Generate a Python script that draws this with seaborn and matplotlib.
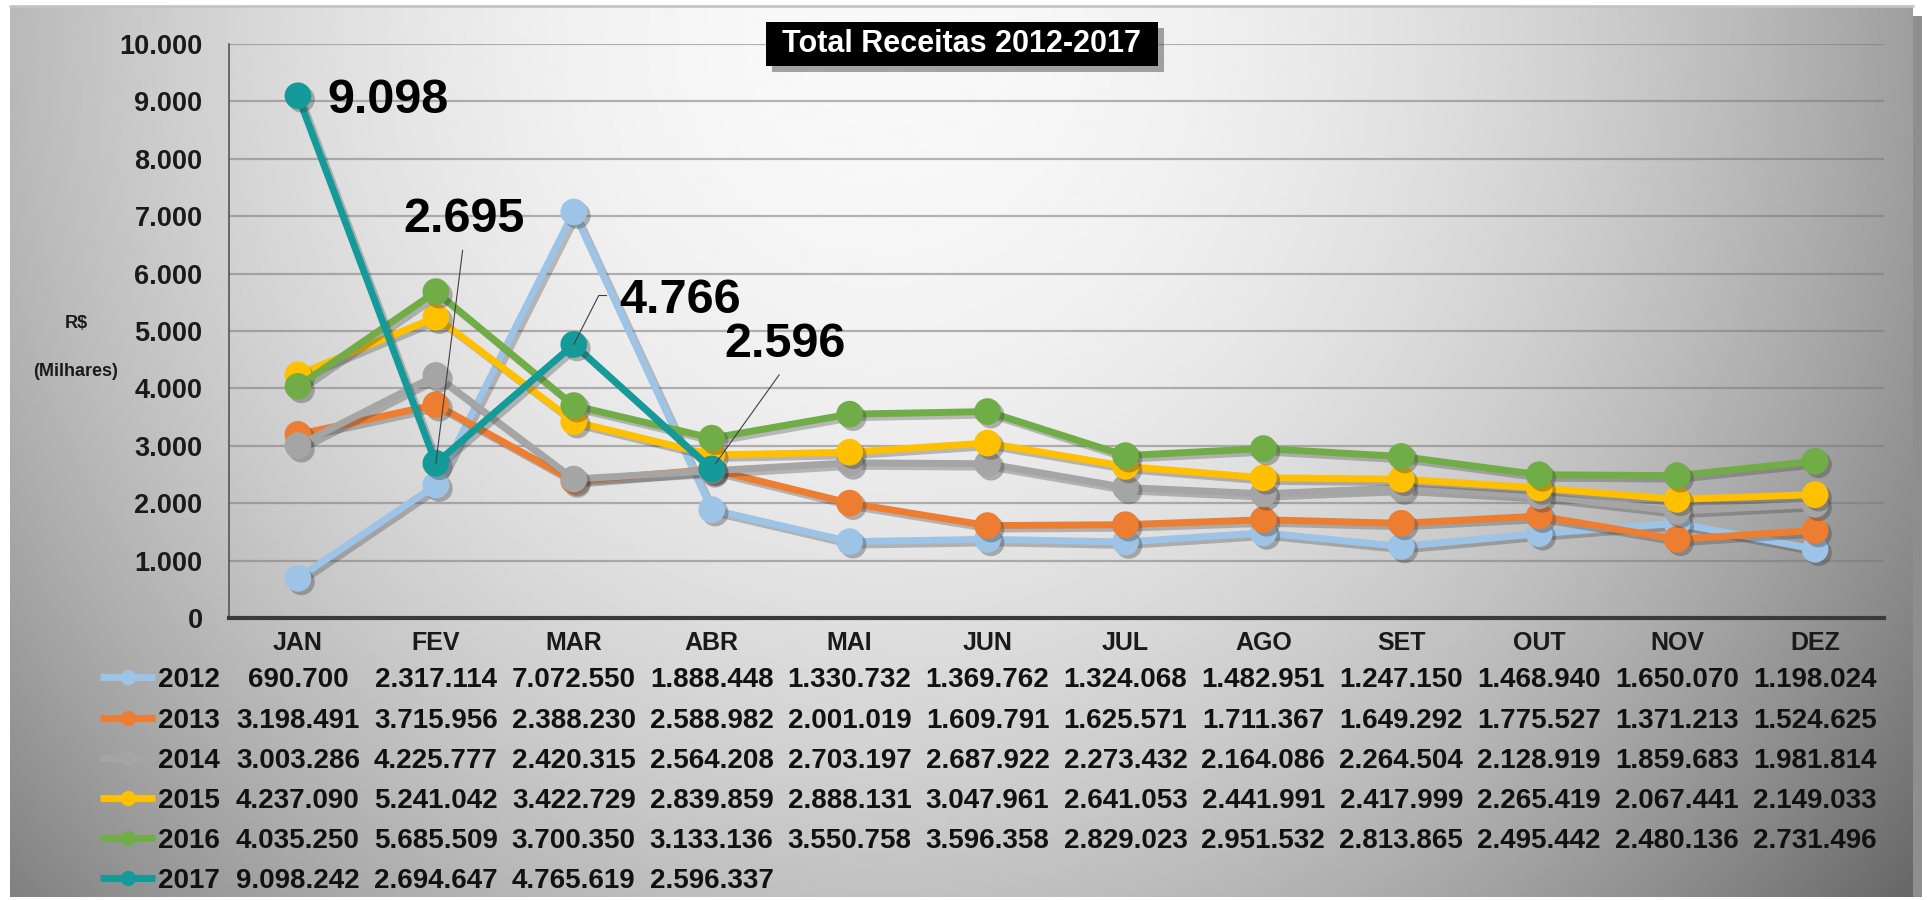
import numpy as np
import pandas as pd
import matplotlib
matplotlib.use("Agg")
import matplotlib.pyplot as plt
import matplotlib.patheffects as pe
import matplotlib.transforms as mtransforms
from matplotlib.lines import Line2D
from matplotlib.patches import Rectangle
import seaborn as sns

# ---------------- data ----------------
months = ["JAN", "FEV", "MAR", "ABR", "MAI", "JUN", "JUL", "AGO", "SET", "OUT", "NOV", "DEZ"]
years = ["2012", "2013", "2014", "2015", "2016", "2017"]
r2012 = [690700, 2317114, 7072550, 1888448, 1330732, 1369762, 1324068, 1482951, 1247150, 1468940, 1650070, 1198024]
r2013 = [3198491, 3715956, 2388230, 2588982, 2001019, 1609791, 1625571, 1711367, 1649292, 1775527, 1371213, 1524625]
r2014 = [3003286, 4225777, 2420315, 2564208, 2703197, 2687922, 2273432, 2164086, 2264504, 2128919, 1859683, 1981814]
r2015 = [4237090, 5241042, 3422729, 2839859, 2888131, 3047961, 2641053, 2441991, 2417999, 2265419, 2067441, 2149033]
r2016 = [4035250, 5685509, 3700350, 3133136, 3550758, 3596358, 2829023, 2951532, 2813865, 2495442, 2480136, 2731496]
r2017 = [9098242, 2694647, 4765619, 2596337]
series = dict(zip(years, [r2012, r2013, r2014, r2015, r2016, r2017]))
colors = {"2012": "#9dc3e6", "2013": "#ed7d31", "2014": "#a5a5a5",
          "2015": "#ffc000", "2016": "#70ad47", "2017": "#159a9a"}
yticks = list(range(0, 10001, 1000))
title = "Total Receitas 2012-2017"

rows = []
for yr, vals in series.items():
    for i, v in enumerate(vals):
        rows.append({"ano": yr, "pos": i, "mes": months[i], "milhares": v / 1000.0, "valor": v})
df = pd.DataFrame(rows)


def fmt(v):
    return f"{v:,}".replace(",", ".")


# ---------------- style ----------------
sns.set_style("white")
plt.rcParams["font.family"] = ["Liberation Sans", "DejaVu Sans"]
plt.rcParams["font.weight"] = "bold"

W, H = 1928, 900
fig = plt.figure(figsize=(W / 100, H / 100), dpi=100)
fig.patch.set_facecolor("white")

# background panel with gradient
bg = fig.add_axes([0, 0, 1, 1], zorder=-10)
bg.set_xlim(0, W)
bg.set_ylim(H, 0)
bg.axis("off")
yy, xx = np.mgrid[6:897:2, 10:1913:2]
d2 = ((xx - 880) / 950.0) ** 2 + ((yy - 40) / 1000.0) ** 2
img = np.clip(0.975 - 0.30 * d2, 0, 1)
bg.add_patch(Rectangle((1913, 16), 9, 881, color="#8e8e8e", lw=0))
bg.imshow(img, cmap="gray", vmin=0, vmax=1, extent=[10, 1913, 897, 6],
          interpolation="bilinear", aspect="auto")
bg.plot([10, 1913], [6, 6], color="#c4c4c4", lw=2)

# main axes
ax = fig.add_axes([229 / W, 1 - 618 / H, (1884 - 229) / W, (618 - 44) / H], zorder=1)
ax.patch.set_alpha(0)
ax.set_xlim(-0.5, 11.5)
ax.set_ylim(0, 10000)
ax.yaxis.grid(True, color="#7a7a7a", alpha=0.55, lw=1.6)
ax.xaxis.grid(False)
ax.set_axisbelow(True)
for s in ["top", "right"]:
    ax.spines[s].set_visible(False)
ax.spines["left"].set_color("#555555")
ax.spines["left"].set_linewidth(1.2)
ax.spines["bottom"].set_color("#3a3a3a")
ax.spines["bottom"].set_linewidth(3)

line_fx = [pe.SimpleLineShadow(offset=(2.5, -2.5), shadow_color="#3a3a3a", alpha=0.3), pe.Normal()]
mark_fx = [pe.SimplePatchShadow(offset=(2.5, -2.5), shadow_rgbFace="#3a3a3a", alpha=0.35), pe.Normal()]

for k, yr in enumerate(years):
    sub = df[df["ano"] == yr]
    c = colors[yr]
    sns.lineplot(data=sub, x="pos", y="milhares", color=c, lw=5, ax=ax,
                 zorder=3 + k, legend=False, sort=False)
    ax.lines[-1].set_path_effects(line_fx)
    sns.scatterplot(data=sub, x="pos", y="milhares", color=c, s=370, ax=ax,
                    edgecolor="none", linewidth=0, zorder=3.5 + k, legend=False)
    ax.collections[-1].set_path_effects(mark_fx)

ax.set_xlabel("")
ax.set_ylabel("")
ax.set_xticks(range(len(months)))
ax.set_xticklabels(months, fontsize=18, fontweight="bold", color="#1a1a1a")
ax.set_yticks(yticks)
ax.set_yticklabels([fmt(t) for t in yticks], fontsize=19.5, fontweight="bold", color="#1a1a1a")
ax.tick_params(axis="x", length=0, pad=9)
ax.tick_params(axis="y", length=0, pad=19)

# annotations on 2017 points
vals17 = df[df["ano"] == "2017"]
lbl = {r.pos: fmt(int(round(r.valor / 1000))) for r in vals17.itertuples()}
# JAN
p = vals17[vals17.pos == 0].iloc[0]
ax.annotate(lbl[0], (p.pos, p.milhares), xytext=(21, -12.2), textcoords="offset points",
            fontsize=35, fontweight="bold", ha="left", va="baseline", color="black",
            zorder=20, annotation_clip=False)
# FEV
p = vals17[vals17.pos == 1].iloc[0]
ax.annotate(lbl[1], (p.pos, p.milhares), xytext=(20, 166.5), textcoords="offset points",
            fontsize=35, fontweight="bold", ha="center", va="baseline", color="black",
            zorder=20, annotation_clip=False,
            arrowprops=dict(arrowstyle="-", color="#404040", lw=0.8, shrinkA=3.5, shrinkB=0,
                            relpos=(0.5, 0)))
# MAR
p = vals17[vals17.pos == 2].iloc[0]
ax.annotate(lbl[2], (p.pos, p.milhares), xytext=(33, 23), textcoords="offset points",
            fontsize=35, fontweight="bold", ha="left", va="baseline", color="black",
            zorder=20, annotation_clip=False,
            arrowprops=dict(arrowstyle="-", color="#404040", lw=0.8, shrinkA=7, shrinkB=0,
                            relpos=(0, 0.6),
                            connectionstyle="angle,angleA=0,angleB=63,rad=0"))
# ABR
p = vals17[vals17.pos == 3].iloc[0]
ax.annotate(lbl[3], (p.pos, p.milhares), xytext=(52.6, 80.6), textcoords="offset points",
            fontsize=35, fontweight="bold", ha="center", va="baseline", color="black",
            zorder=20, annotation_clip=False,
            arrowprops=dict(arrowstyle="-", color="#404040", lw=0.8, shrinkA=4, shrinkB=5,
                            relpos=(0.5, 0)))

# overlay for title, labels, table
ov = fig.add_axes([0, 0, 1, 1], zorder=5)
ov.set_xlim(0, W)
ov.set_ylim(H, 0)
ov.axis("off")
ov.patch.set_alpha(0)

ov.add_patch(Rectangle((772, 28), 392, 44, color="#3a3a3a", alpha=0.45, lw=0))
ov.add_patch(Rectangle((766, 22), 392, 44, color="black", lw=0))
ov.text(962, 44, title, color="white", fontsize=22, fontweight="bold", ha="center", va="center")

ov.text(76, 323, "R$", fontsize=13, fontweight="bold", ha="center", va="center", color="#1a1a1a")
ov.text(76, 372, "(Milhares)", fontsize=13, fontweight="bold", ha="center", va="center", color="#1a1a1a")

# data table under the chart
tr = mtransforms.blended_transform_factory(ax.transData, ov.transData)
row_y = [677, 718, 758, 798, 838, 878]
for yr, yc in zip(years, row_y):
    c = colors[yr]
    ov.add_line(Line2D([100, 155], [yc, yc], color=c, lw=5, solid_capstyle="butt"))
    ov.add_line(Line2D([128], [yc], color=c, marker="o", markersize=11, markeredgewidth=0))
    ov.text(158, yc + 10, yr, fontsize=20, fontweight="bold", ha="left", va="baseline", color="#111111")
    sub = df[df["ano"] == yr]
    for r in sub.itertuples():
        ov.text(r.pos, yc + 10, fmt(r.valor), transform=tr, fontsize=20, fontweight="bold",
                ha="center", va="baseline", color="#111111")

fig.savefig("out.png", dpi=100)
